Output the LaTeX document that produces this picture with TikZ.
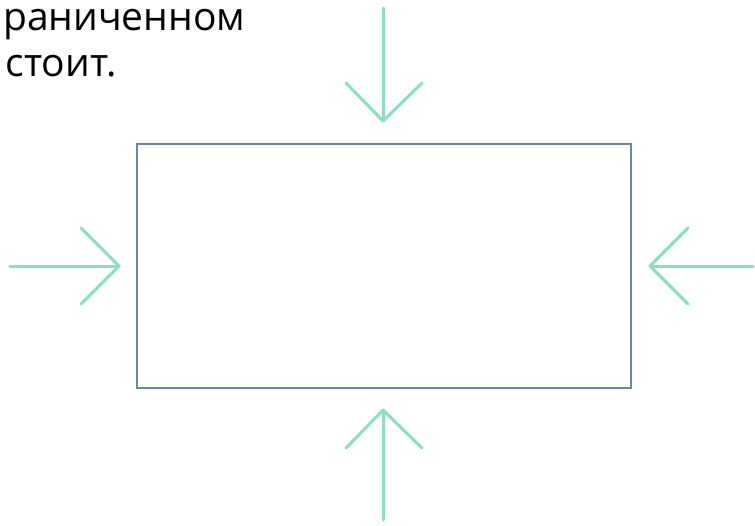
\documentclass[tikz,border=0pt]{standalone}
\usepackage{fontspec}
\setmainfont{Open Sans}
\usepackage{tikz}

\definecolor{mint}{RGB}{140,222,192}
\definecolor{frame}{RGB}{104,134,170}

\tikzset{push/.style={line width=3pt, color=mint, line cap=round, line join=round}}

\begin{document}
\begin{tikzpicture}[x=1pt,y=-1pt]
\useasboundingbox (0,0) rectangle (755,525);
\fill [white] (0,0) rectangle (755,525);

\node[anchor=base west, inner sep=0pt, font=\fontsize{39}{47}\selectfont] (line1) at (3, 30) {раниченном};
\node[anchor=base east, inner sep=0pt, font=\fontsize{39}{47}\selectfont] (line2) at (117, 76) {стоит.};

\draw [line width=2pt, color=frame] (137,144) rectangle (631,388);

% top
\draw [push] (383,8) -- (383,121);
\draw [push] (346,83) -- (383,121) -- (422,83);
% bottom
\draw [push] (383,520) -- (383,410);
\draw [push] (346,448) -- (383,410) -- (422,448);
% left
\draw [push] (10,266) -- (119,266);
\draw [push] (81,228) -- (119,266) -- (81,304);
% right
\draw [push] (753,266) -- (650,266);
\draw [push] (688,228) -- (650,266) -- (688,304);

\end{tikzpicture}
\end{document}
